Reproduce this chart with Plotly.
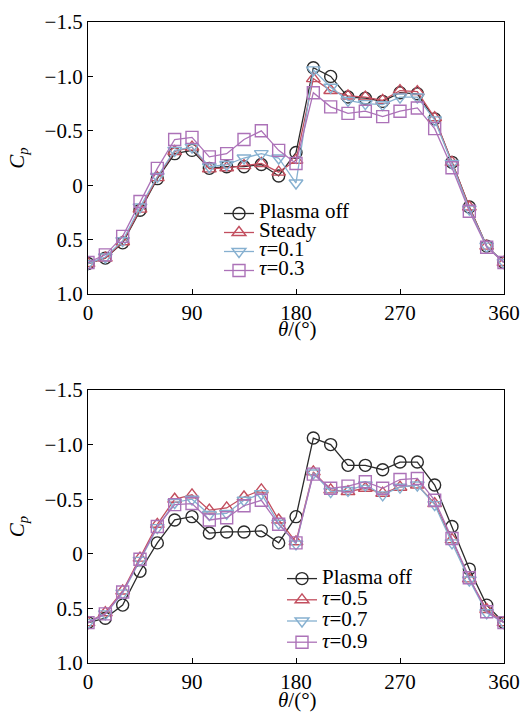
import plotly.graph_objects as go

theta = [0, 15, 30, 45, 60, 75, 90, 105, 120, 135, 150, 165, 180,
         195, 210, 225, 240, 255, 270, 285, 300, 315, 330, 345, 360]

# Top panel
top_off = [0.72, 0.67, 0.53, 0.23, -0.06, -0.29, -0.32, -0.155, -0.17, -0.17, -0.19, -0.085, -0.30,
           -1.08, -1.00, -0.81, -0.80, -0.77, -0.85, -0.84, -0.61, -0.21, 0.20, 0.56, 0.71]
top_steady = [0.72, 0.67, 0.52, 0.22, -0.07, -0.31, -0.35, -0.15, -0.16, -0.18, -0.20, -0.12, -0.23,
              -0.98, -0.87, -0.82, -0.81, -0.78, -0.87, -0.86, -0.62, -0.21, 0.20, 0.56, 0.71]
top_t01 = [0.72, 0.66, 0.51, 0.20, -0.08, -0.32, -0.35, -0.17, -0.19, -0.25, -0.29, -0.25, -0.02,
           -1.06, -0.90, -0.78, -0.75, -0.74, -0.81, -0.81, -0.60, -0.20, 0.22, 0.56, 0.71]
top_t03 = [0.71, 0.64, 0.47, 0.15, -0.155, -0.42, -0.44, -0.26, -0.29, -0.42, -0.50, -0.32, -0.20,
           -0.85, -0.72, -0.66, -0.68, -0.63, -0.68, -0.71, -0.52, -0.16, 0.24, 0.57, 0.71]

# Bottom panel
bot_off = [0.63, 0.59, 0.47, 0.16, -0.10, -0.31, -0.34, -0.19, -0.20, -0.20, -0.21, -0.10, -0.34,
           -1.06, -1.00, -0.81, -0.81, -0.77, -0.84, -0.84, -0.63, -0.25, 0.14, 0.47, 0.63]
bot_t05 = [0.63, 0.54, 0.34, 0.04, -0.27, -0.50, -0.54, -0.40, -0.42, -0.52, -0.585, -0.31, -0.11,
           -0.75, -0.585, -0.57, -0.60, -0.555, -0.61, -0.63, -0.46, -0.13, 0.23, 0.51, 0.63]
bot_t07 = [0.63, 0.55, 0.36, 0.06, -0.24, -0.47, -0.50, -0.36, -0.37, -0.49, -0.55, -0.28, -0.09,
           -0.74, -0.57, -0.58, -0.63, -0.54, -0.61, -0.63, -0.45, -0.10, 0.24, 0.54, 0.63]
bot_t09 = [0.63, 0.55, 0.35, 0.05, -0.25, -0.45, -0.46, -0.31, -0.33, -0.44, -0.49, -0.27, -0.10,
           -0.73, -0.60, -0.62, -0.66, -0.60, -0.68, -0.69, -0.49, -0.14, 0.22, 0.53, 0.63]

top_names = ["Plasma off", "Steady", "<i>τ</i>=0.1", "<i>τ</i>=0.3"]
bot_names = ["Plasma off", "<i>τ</i>=0.5", "<i>τ</i>=0.7", "<i>τ</i>=0.9"]

colors = ["#2a2a2a", "#c24e5e", "#86b0d0", "#ac72b8"]
symbols = ["circle-open", "triangle-up-open", "triangle-down-open", "square-open"]

y_ticks = [-1.5, -1.0, -0.5, 0, 0.5, 1.0]
y_ticktext = ["\u22121.5", "\u22121.0", "\u22120.5", "0", "0.5", "1.0"]
x_ticks = [0, 90, 180, 270, 360]

FONT = "Liberation Serif"
LEG_FS = 21
TICK_FS = 21


def legname(n):
    return '<span style="font-size:%dpx">%s</span>' % (LEG_FS, n)


fig = go.Figure()

for series, name, c, s in zip([top_off, top_steady, top_t01, top_t03], top_names, colors, symbols):
    fig.add_trace(go.Scatter(x=theta, y=series, name=legname(name), mode="lines+markers",
                             line=dict(color=c, width=1.3),
                             marker=dict(symbol=s, size=12, color=c, line=dict(width=1.4, color=c)),
                             xaxis="x", yaxis="y", legend="legend"))

for series, name, c, s in zip([bot_off, bot_t05, bot_t07, bot_t09], bot_names, colors, symbols):
    fig.add_trace(go.Scatter(x=theta, y=series, name=legname(name), mode="lines+markers",
                             line=dict(color=c, width=1.3),
                             marker=dict(symbol=s, size=12, color=c, line=dict(width=1.4, color=c)),
                             xaxis="x2", yaxis="y2", legend="legend2"))

W, H = 521, 713
xd = [88 / W, 504 / W]
top_dom = [(H - 294) / H, (H - 22) / H]
bot_dom = [(H - 663) / H, (H - 390) / H]


def xax(domain, anchor):
    return dict(domain=domain, anchor=anchor, range=[0, 360], tickvals=x_ticks,
                ticks="inside", ticklen=5, tickwidth=1, tickcolor="black",
                showline=True, linecolor="black", linewidth=1.2, mirror=True,
                showgrid=False, zeroline=False, automargin=False,
                tickfont=dict(family=FONT, size=TICK_FS, color="black"))


def yax(domain, anchor):
    return dict(domain=domain, anchor=anchor, range=[1.0, -1.5], tickvals=y_ticks,
                ticktext=y_ticktext,
                ticks="inside", ticklen=5, tickwidth=1, tickcolor="black",
                showline=True, linecolor="black", linewidth=1.2, mirror=True,
                showgrid=False, zeroline=False, automargin=False,
                tickfont=dict(family=FONT, size=TICK_FS, color="black"),
                title=dict(text="<i>C<sub>p</sub></i>", font=dict(family=FONT, size=21, color="black"),
                           standoff=14))


xtitle = "<i>θ</i>/(°)"

fig.update_layout(
    width=W, height=H,
    margin=dict(l=0, r=0, t=0, b=0),
    paper_bgcolor="white", plot_bgcolor="white",
    font=dict(family=FONT, color="black"),
    xaxis=xax(xd, "y"), yaxis=yax(top_dom, "x"),
    xaxis2=xax(xd, "y2"), yaxis2=yax(bot_dom, "x2"),
    legend=dict(x=219 / W, y=(H - 199) / H, xanchor="left", yanchor="top",
                bgcolor="rgba(0,0,0,0)", borderwidth=0,
                font=dict(family=FONT, size=11.5, color="black"), tracegroupgap=0),
    legend2=dict(x=282 / W, y=(H - 563) / H, xanchor="left", yanchor="top",
                 bgcolor="rgba(0,0,0,0)", borderwidth=0,
                 font=dict(family=FONT, size=14, color="black"), tracegroupgap=0),
    showlegend=True,
    annotations=[
        dict(text=xtitle, xref="paper", yref="paper", x=297 / W, y=(H - 329) / H,
             showarrow=False, xanchor="center", yanchor="middle",
             font=dict(family=FONT, size=21, color="black")),
        dict(text=xtitle, xref="paper", yref="paper", x=297 / W, y=(H - 700) / H,
             showarrow=False, xanchor="center", yanchor="middle",
             font=dict(family=FONT, size=21, color="black")),
    ],
)

fig.write_html("out.html")
